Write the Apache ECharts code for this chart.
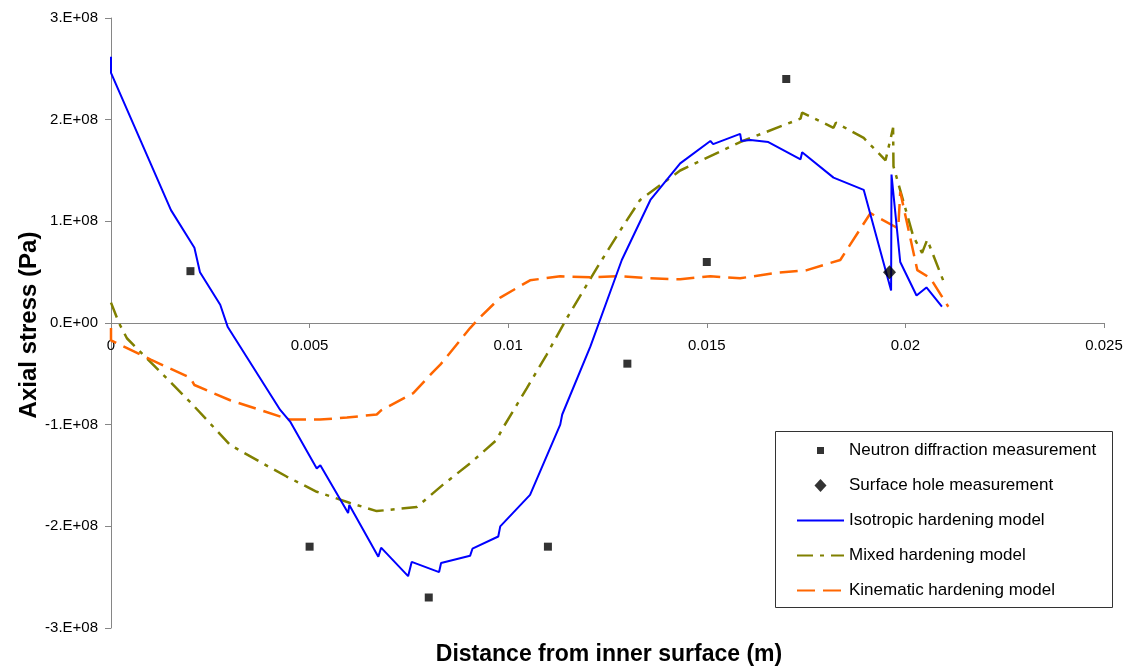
<!DOCTYPE html>
<html>
<head>
<meta charset="utf-8">
<script src="https://cdn.jsdelivr.net/npm/echarts@6/dist/echarts.min.js"></script>
<style>
html,body{margin:0;padding:0;background:#fff;}
#chart{width:1135px;height:667px;}
</style>
</head>
<body>
<div id="chart"></div>
<script>
// ---- data (x in m, stress in Pa) ----
const neutronX = [0.002, 0.005, 0.008, 0.011, 0.013, 0.015, 0.017];
const neutronY = [5.1e7, -2.2e8, -2.7e8, -2.2e8, -4.0e7, 6.0e7, 2.4e8];

const holeX = [0.0196];
const holeY = [5.0e7];

const isoX = [0, 0, 0.00151, 0.0021, 0.00224, 0.00275, 0.00294, 0.00426, 0.00451, 0.00518, 0.00527, 0.00597, 0.0060, 0.00673, 0.0068, 0.00748, 0.00757, 0.00826, 0.00831, 0.00904, 0.0091, 0.00975, 0.0098, 0.01055, 0.01131, 0.01136, 0.01207, 0.01286, 0.01358, 0.01433, 0.01509, 0.01516, 0.01584, 0.01587, 0.0161, 0.01655, 0.01736, 0.0174, 0.01819, 0.01895, 0.01964, 0.01965, 0.01987, 0.02028, 0.02053, 0.02092];
const isoY = [2.62e8, 2.46e8, 1.11e8, 0.74e8, 0.50e8, 0.18e8, -0.04e8, -0.855e8, -0.97e8, -1.43e8, -1.40e8, -1.87e8, -1.79e8, -2.30e8, -2.21e8, -2.49e8, -2.35e8, -2.45e8, -2.36e8, -2.29e8, -2.22e8, -2.10e8, -2.00e8, -1.69e8, -1.00e8, -0.90e8, -0.23e8, 0.62e8, 1.21e8, 1.57e8, 1.79e8, 1.76e8, 1.86e8, 1.79e8, 1.80e8, 1.78e8, 1.61e8, 1.68e8, 1.43e8, 1.31e8, 0.32e8, 1.46e8, 0.60e8, 0.27e8, 0.35e8, 0.16e8];

const mixX = [0, 0.0002, 0.0004, 0.002, 0.003, 0.004, 0.00442, 0.00518, 0.00602, 0.00669, 0.0077, 0.00836, 0.00904, 0.00971, 0.00984, 0.01047, 0.01097, 0.01148, 0.01223, 0.01282, 0.01332, 0.01433, 0.01584, 0.01736, 0.0174, 0.01819, 0.01825, 0.01895, 0.0195, 0.01969, 0.0197, 0.0202, 0.02042, 0.02055, 0.02096];
const mixY = [0.20e8, 0.0, -0.15e8, -0.78e8, -1.20e8, -1.42e8, -1.51e8, -1.66e8, -1.77e8, -1.85e8, -1.81e8, -1.59e8, -1.38e8, -1.15e8, -1.05e8, -0.64e8, -0.31e8, 0.05e8, 0.54e8, 0.91e8, 1.21e8, 1.50e8, 1.78e8, 2.01e8, 2.07e8, 1.92e8, 1.97e8, 1.82e8, 1.60e8, 1.92e8, 1.54e8, 0.85e8, 0.69e8, 0.82e8, 0.41e8];

const kinX = [0, 0, 0.001, 0.002, 0.0021, 0.003, 0.0045, 0.00526, 0.00594, 0.00669, 0.0068, 0.00761, 0.00811, 0.00829, 0.00904, 0.0093, 0.0098, 0.01055, 0.01131, 0.01207, 0.01282, 0.01358, 0.01433, 0.01509, 0.01584, 0.01668, 0.01752, 0.01836, 0.01912, 0.01982, 0.01987, 0.0203, 0.02063, 0.02108];
const kinY = [-0.05e8, -0.17e8, -0.36e8, -0.54e8, -0.61e8, -0.76e8, -0.95e8, -0.95e8, -0.93e8, -0.90e8, -0.86e8, -0.69e8, -0.48e8, -0.41e8, -0.05e8, 0.06e8, 0.25e8, 0.42e8, 0.46e8, 0.45e8, 0.46e8, 0.44e8, 0.43e8, 0.46e8, 0.44e8, 0.49e8, 0.52e8, 0.62e8, 1.08e8, 0.93e8, 1.29e8, 0.52e8, 0.44e8, 0.16e8];

const seriesNames = ['Neutron diffraction measurement', 'Surface hole measurement', 'Isotropic hardening model', 'Mixed hardening model', 'Kinematic hardening model'];
const xTitle = 'Distance from inner surface (m)';
const yTitle = 'Axial stress (Pa)';

const zip = (xs, ys) => xs.map((x, i) => [x, ys[i]]);
const FONT = '"Liberation Sans", Arial, sans-serif';
const hiddenSym = {opacity: 0};

const chart = echarts.init(document.getElementById('chart'), null, {renderer: 'canvas'});
chart.setOption({
  animation: false,
  backgroundColor: '#fff',
  grid: {left: 111, right: 31, top: 18, bottom: 39, containLabel: false, outerBoundsMode: 'none'},
  xAxis: {
    type: 'value', min: 0, max: 0.025, interval: 0.005,
    offset: -305,
    axisLine: {onZero: false, lineStyle: {color: '#868686', width: 1}},
    axisTick: {show: true, length: 5, lineStyle: {color: '#868686'}},
    splitLine: {show: false},
    axisLabel: {color: '#000', fontSize: 15, fontFamily: FONT, margin: 15}
  },
  yAxis: {
    type: 'value', min: -3e8, max: 3e8, interval: 1e8,
    axisLine: {show: true, lineStyle: {color: '#868686', width: 1}},
    axisTick: {show: true, length: 6, lineStyle: {color: '#868686'}},
    splitLine: {show: false},
    axisLabel: {
      color: '#000', fontSize: 15, fontFamily: FONT, margin: 13,
      formatter: v => v === 0 ? '0.E+00' : (Math.round(v / 1e8)) + '.E+08'
    }
  },
  graphic: [
    {type: 'text', x: 609, y: 655,
     style: {text: xTitle, fill: '#000', font: 'bold 23px ' + FONT, align: 'center', verticalAlign: 'middle'}},
    {type: 'text', x: 29, y: 325, rotation: Math.PI / 2,
     style: {text: yTitle, fill: '#000', font: 'bold 24px ' + FONT, align: 'center', verticalAlign: 'middle'}},
    {type: 'rect', shape: {x: 775.5, y: 431.5, width: 337, height: 176},
     style: {fill: '#fff', stroke: '#333', lineWidth: 1}, z: 50}
  ],
  legend: {
    orient: 'vertical', left: 796, top: 442, padding: 0,
    itemWidth: 47, itemHeight: 14, itemGap: 18, z: 60,
    selectedMode: false,
    textStyle: {color: '#000', fontSize: 17, fontFamily: FONT, padding: [0, 0, 0, 0]},
    data: [
      {name: seriesNames[0], icon: 'path://M0,0M47,14M20,3.5h7v7h-7z'},
      {name: seriesNames[1], icon: 'path://M0,0M47,14M23.5,0.5L29.5,7L23.5,13.5L17.5,7z'},
      {name: seriesNames[2], itemStyle: hiddenSym},
      {name: seriesNames[3], itemStyle: hiddenSym},
      {name: seriesNames[4], itemStyle: hiddenSym}
    ]
  },
  series: [
    {name: seriesNames[0], type: 'scatter', data: zip(neutronX, neutronY),
     symbol: 'rect', symbolSize: 8, itemStyle: {color: '#000'}, z: 5},
    {name: seriesNames[1], type: 'scatter', data: zip(holeX, holeY),
     symbol: 'diamond', symbolSize: [13, 14], itemStyle: {color: '#000'}, z: 5},
    {name: seriesNames[2], type: 'line', data: zip(isoX, isoY), symbol: 'none',
     lineStyle: {color: '#0000FF', width: 2}, itemStyle: {color: '#0000FF'}, z: 3},
    {name: seriesNames[3], type: 'line', data: zip(mixX, mixY), symbol: 'none',
     lineStyle: {color: '#808000', width: 2.5, type: [16, 7, 4, 7]}, itemStyle: {color: '#808000'}, z: 2},
    {name: seriesNames[4], type: 'line', data: zip(kinX, kinY), symbol: 'none',
     lineStyle: {color: '#FF6600', width: 2.5, type: [18, 8]}, itemStyle: {color: '#FF6600'}, z: 2}
  ]
});
</script>
</body>
</html>
